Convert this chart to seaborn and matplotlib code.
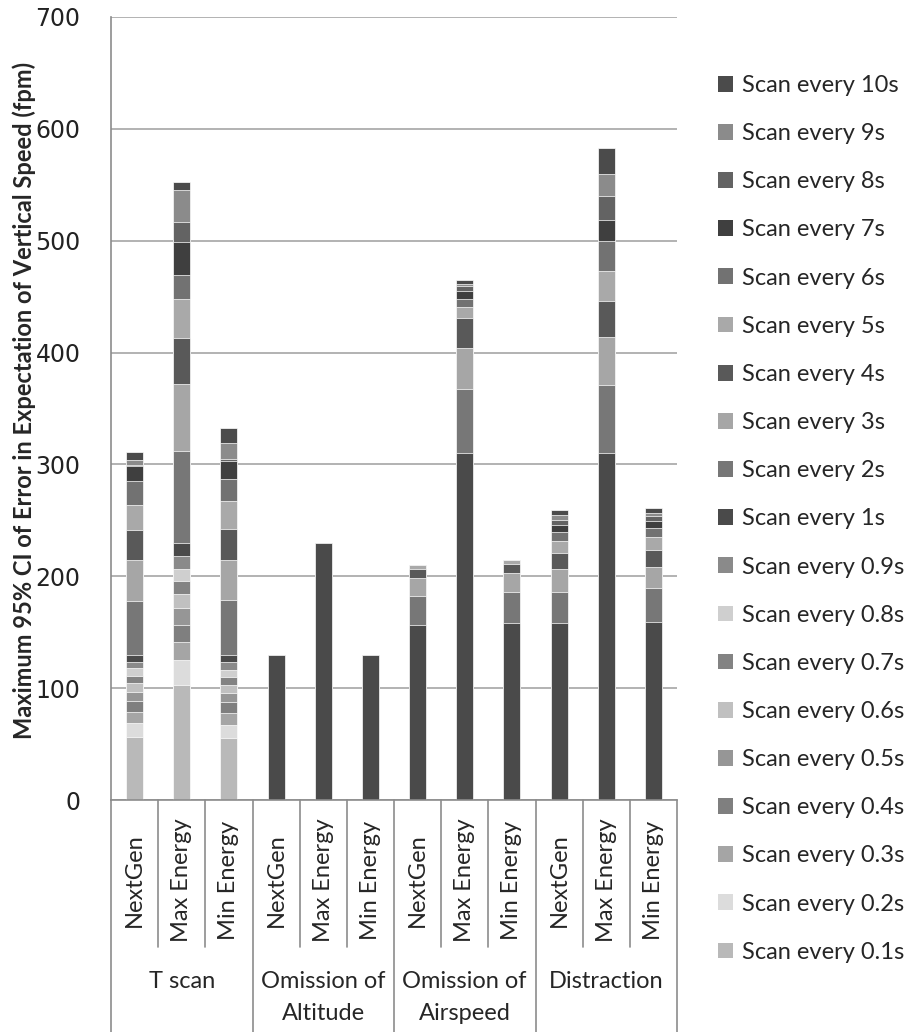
import matplotlib
matplotlib.use("Agg")
import numpy as np
import pandas as pd
import matplotlib.pyplot as plt
import seaborn as sns
from matplotlib.patches import Patch

# scenario groups and flight profiles (one bar per pair)
groups = ["T scan", "Omission of\nAltitude", "Omission of\nAirspeed", "Distraction"]
profiles = ["NextGen", "Max Energy", "Min Energy"]

# stacked segments, bottom (0.1s) to top (10s); 12 bars each
scan_0_1s = [56.4, 103.1, 55.4, 0, 0, 0, 0, 0, 0, 0, 0, 0]
scan_0_2s = [12.4, 21.8, 12.0, 0, 0, 0, 0, 0, 0, 0, 0, 0]
scan_0_3s = [10.2, 16.4, 10.5, 0, 0, 0, 0, 0, 0, 0, 0, 0]
scan_0_4s = [9.5, 15.3, 9.5, 0, 0, 0, 0, 0, 0, 0, 0, 0]
scan_0_5s = [8.0, 15.3, 8.0, 0, 0, 0, 0, 0, 0, 0, 0, 0]
scan_0_6s = [8.0, 12.0, 7.7, 0, 0, 0, 0, 0, 0, 0, 0, 0]
scan_0_7s = [6.6, 11.7, 6.5, 0, 0, 0, 0, 0, 0, 0, 0, 0]
scan_0_8s = [6.5, 11.2, 6.9, 0, 0, 0, 0, 0, 0, 0, 0, 0]
scan_0_9s = [6.2, 11.7, 7.3, 0, 0, 0, 0, 0, 0, 0, 0, 0]
scan_1s = [5.5, 10.9, 5.5, 130, 230, 130, 156.5, 310.2, 158.3, 158.1, 310.4, 159.3]
scan_2s = [48.4, 82.7, 49.9, 0, 0, 0, 26.2, 57.4, 27.8, 27.8, 60.7, 30.0]
scan_3s = [37.2, 59.7, 35.7, 0, 0, 0, 16.1, 36.4, 16.4, 20.4, 43.0, 19.2]
scan_4s = [26.5, 41.2, 27.3, 0, 0, 0, 8.0, 26.6, 8.9, 14.8, 32.2, 14.8]
scan_5s = [22.6, 35.3, 24.7, 0, 0, 0, 3.7, 10.1, 3.6, 10.4, 26.7, 11.9]
scan_6s = [20.8, 20.8, 20.1, 0, 0, 0, 0, 7.1, 0, 8.1, 27.0, 8.1]
scan_7s = [13.8, 29.9, 16.3, 0, 0, 0, 0, 6.8, 0, 6.0, 18.5, 6.0]
scan_8s = [1.0, 18.1, 1.5, 0, 0, 0, 0, 4.7, 0, 4.4, 21.1, 4.4]
scan_9s = [4.5, 28.4, 14.6, 0, 0, 0, 0, 2.0, 0, 4.4, 20.4, 3.0]
scan_10s = [7.3, 6.9, 13.4, 0, 0, 0, 0, 3.8, 0, 4.9, 23.0, 4.4]

series_names = ["Scan every 0.1s", "Scan every 0.2s", "Scan every 0.3s", "Scan every 0.4s",
                "Scan every 0.5s", "Scan every 0.6s", "Scan every 0.7s", "Scan every 0.8s",
                "Scan every 0.9s", "Scan every 1s", "Scan every 2s", "Scan every 3s",
                "Scan every 4s", "Scan every 5s", "Scan every 6s", "Scan every 7s",
                "Scan every 8s", "Scan every 9s", "Scan every 10s"]
series_vals = [scan_0_1s, scan_0_2s, scan_0_3s, scan_0_4s, scan_0_5s, scan_0_6s, scan_0_7s,
               scan_0_8s, scan_0_9s, scan_1s, scan_2s, scan_3s, scan_4s, scan_5s, scan_6s,
               scan_7s, scan_8s, scan_9s, scan_10s]
colors = ["#b9b9b9", "#dcdcdc", "#a5a5a5", "#7f7f7f", "#969696", "#c0c0c0", "#838383",
          "#cfcfcf", "#8a8a8a", "#4a4a4a", "#777777", "#a6a6a6", "#595959", "#a9a9a9",
          "#727272", "#3f3f3f", "#636363", "#8b8b8b", "#4b4b4b"]

bar_ids = ["%s|%s" % (g, p) for g in groups for p in profiles]

rows = []
for name, vals in zip(series_names, series_vals):
    for b, v in zip(bar_ids, vals):
        rows.append({"bar": b, "series": name, "value": v})
df = pd.DataFrame(rows)
df["top"] = df.groupby("bar")["value"].cumsum()

sns.set_style("white")
plt.rcParams["font.family"] = ["Lato", "DejaVu Sans"]

fig = plt.figure(figsize=(9.11, 10.32), dpi=100)
ax = fig.add_axes([111 / 911, 1 - 800 / 1032, 566 / 911, 783 / 1032])

# draw cumulative tops from the highest series down so each stack is painted
for name, col in reversed(list(zip(series_names, colors))):
    sub = df[df["series"] == name]
    sns.barplot(data=sub, x="bar", y="top", order=bar_ids, color=col, saturation=1,
                width=0.36, errorbar=None, edgecolor="white", linewidth=0.5, ax=ax)

ax.set_ylim(0, 700)
ax.set_xlim(-0.5, 11.5)
ax.set_yticks(np.arange(0, 701, 100))
ax.yaxis.grid(True, color="#a6a6a6", linewidth=1.2)
ax.set_axisbelow(True)
for s in ["top", "right"]:
    ax.spines[s].set_visible(False)
for s in ["left", "bottom"]:
    ax.spines[s].set_color("#8c8c8c")
    ax.spines[s].set_linewidth(1.2)
ax.tick_params(axis="y", length=6, color="#8c8c8c", direction="out", labelsize=17,
               labelcolor="#222222", pad=16)
for lab in ax.get_yticklabels():
    lab.set_family("DejaVu Sans")
ax.tick_params(axis="x", bottom=False, labelbottom=False)
ax.set_xlabel("")
ax.set_ylabel("")

# category labels and separators below the axis
trans = ax.get_xaxis_transform()
h = 783.0
for i, b in enumerate(bar_ids):
    ax.text(i, -80 / h, b.split("|")[1], rotation=90, ha="center", va="center",
            fontsize=17, transform=trans, clip_on=False)
for k in range(13):
    x = k - 0.5
    low = -232 / h if k % 3 == 0 else -147 / h
    ax.plot([x, x], [0, low], color="#8c8c8c", lw=1.2, transform=trans, clip_on=False)
for j, g in enumerate(groups):
    for n, line in enumerate(g.split("\n")):
        ax.text(j * 3 + 1, -(182 + 31 * n) / h, line, ha="center", va="center",
                fontsize=17, transform=trans, clip_on=False)

fig.text(24 / 911, 1 - 400 / 1032,
         "Maximum 95% CI of Error in Expectation of Vertical Speed (fpm)",
         rotation=90, ha="center", va="center", fontsize=17, fontweight="bold")

handles = [Patch(facecolor=c, edgecolor="none", label=n)
           for n, c in zip(series_names, colors)][::-1]
fig.legend(handles=handles, loc="upper left", bbox_to_anchor=(718 / 911, 1 - 75 / 1032),
           frameon=False, fontsize=17, handlelength=0.65, handleheight=0.65,
           handletextpad=0.35, labelspacing=1.15, borderpad=0, borderaxespad=0)

plt.savefig("out.png", dpi=100)
